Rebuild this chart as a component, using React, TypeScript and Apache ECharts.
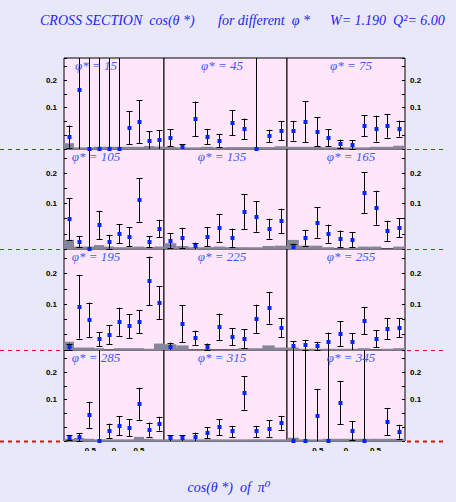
import React, { useEffect, useRef } from "react";
import * as echarts from "echarts";

// ---------------- data ----------------
const cosTheta = [-0.9, -0.7, -0.5, -0.3, -0.1, 0.1, 0.3, 0.5, 0.7, 0.9];
const phiStar = [15, 45, 75, 105, 135, 165, 195, 225, 255, 285, 315, 345];
const xTickLabels = ["-0.5", "0", "0.5"];
const yTickLabels = ["0.1", "0.2"];

// cross section values (points below the axis range are clipped at the bottom)
const xs15 = [-0.005, 0.164, -0.1, -0.1, -0.1, -0.1, 0.027, 0.049, -0.02, -0.016];
const er15 = [0.04, 0.5, 0.5, 0.5, 0.5, 0.5, 0.06, 0.078, 0.035, 0.035];
const sy15 = [0.021, 0.006, 0.006, 0.008, 0.008, 0.008, 0.008, 0.008, 0.011, 0.009];

const xs45 = [-0.009, -0.042, 0.059, -0.005, -0.02, 0.045, 0.0225, -0.1, -0.002, 0.016];
const er45 = [0.03, 0.01, 0.063, 0.028, 0.024, 0.045, 0.038, 0.5, 0.022, 0.035];
const sy45 = [0.008, 0.006, 0.006, 0.008, 0.006, 0.007, 0.007, 0.007, 0.007, 0.01];

const xs75 = [0.016, 0.049, 0.013, -0.009, -0.031, -0.034, 0.0345, 0.024, 0.0345, 0.024];
const er75 = [0.036, 0.074, 0.052, 0.03, 0.015, 0.015, 0.037, 0.047, 0.043, 0.029];
const sy75 = [0.008, 0.008, 0.008, 0.006, 0.006, 0.006, 0.006, 0.008, 0.008, 0.012];

const xs105 = [0.049, -0.026, -0.1, 0.029, -0.026, 0.0005, -0.009, 0.112, -0.026, 0.017];
const er105 = [0.069, 0.019, 0.5, 0.047, 0.023, 0.031, 0.032, 0.072, 0.019, 0.029];
const sy105 = [0.03, 0.008, 0.008, 0.013, 0.008, 0.006, 0.006, 0.008, 0.006, 0.008];

const xs135 = [-0.023, -0.013, -0.04, -0.009, 0.02, -0.013, 0.073, 0.057, 0.017, 0.043];
const er135 = [0.025, 0.033, 0.011, 0.031, 0.046, 0.03, 0.057, 0.05, 0.033, 0.04];
const sy135 = [0.019, 0.01, 0.006, 0.006, 0.008, 0.006, 0.006, 0.006, 0.01, 0.011];

const xs165 = [-0.042, -0.013, 0.037, 0.0005, -0.016, -0.019, 0.136, 0.086, 0.01, 0.02];
const er165 = [0.01, 0.026, 0.05, 0.03, 0.027, 0.025, 0.067, 0.056, 0.033, 0.031];
const sy165 = [0.03, 0.011, 0.011, 0.006, 0.002, 0.004, 0.008, 0.008, 0.001, 0.008];

const xs195 = [-0.039, 0.0915, 0.049, -0.014, 0.0, 0.0425, 0.028, 0.0425, 0.176, 0.1045];
const er195 = [0.01, 0.104, 0.056, 0.023, 0.032, 0.046, 0.039, 0.038, 0.079, 0.053];
const sy195 = [0.027, 0.008, 0.008, 0.006, 0.002, 0.006, 0.006, 0.006, 0.004, 0.021];

const xs225 = [-0.039, 0.036, -0.01, -0.039, 0.026, -0.0065, -0.013, 0.052, 0.088, 0.023];
const er225 = [0.013, 0.06, 0.023, 0.01, 0.043, 0.027, 0.03, 0.046, 0.052, 0.032];
const sy225 = [0.019, 0.015, 0.002, 0.002, 0.002, 0.002, 0.006, 0.006, 0.015, 0.008];

const xs255 = [-0.036, -0.033, -0.036, -0.023, 0.003, -0.023, 0.046, -0.013, 0.02, 0.023];
const er255 = [0.015, 0.016, 0.013, 0.03, 0.041, 0.027, 0.045, 0.028, 0.035, 0.031];
const sy255 = [0.008, 0.004, 0.004, 0.004, 0.004, 0.004, 0.006, 0.002, 0.004, 0.006];

const xs285 = [-0.038, -0.0355, 0.045, -0.1, -0.013, 0.0055, -0.002, 0.085, -0.009, 0.013];
const er285 = [0.01, 0.014, 0.047, 0.5, 0.026, 0.035, 0.03, 0.058, 0.026, 0.025];
const sy285 = [0.008, 0.011, 0.008, 0.006, 0.006, 0.006, 0.006, 0.015, 0.008, 0.006];

const xs315 = [-0.04, -0.04, -0.035, -0.02, 0.0, -0.015, 0.124, -0.015, -0.005, 0.016];
const er315 = [0.01, 0.01, 0.015, 0.02, 0.03, 0.02, 0.06, 0.02, 0.03, 0.025];
const sy315 = [0.006, 0.006, 0.006, 0.006, 0.006, 0.006, 0.006, 0.006, 0.006, 0.006];

const xs345 = [-0.1, -0.1, 0.042, -0.1, 0.089, -0.013, -0.1, null, 0.02, -0.016];
const er345 = [0.5, 0.5, 0.097, 0.5, 0.079, 0.035, 0.5, null, 0.05, 0.025];
const sy345 = [0.012, 0.006, 0.006, 0.008, 0.008, 0.008, 0.008, 0.008, 0.008, 0.008];

const values = [xs15, xs45, xs75, xs105, xs135, xs165, xs195, xs225, xs255, xs285, xs315, xs345];
const errors = [er15, er45, er75, er105, er135, er165, er195, er225, er255, er285, er315, er345];
const systs = [sy15, sy45, sy75, sy105, sy135, sy165, sy195, sy225, sy255, sy285, sy315, sy345];

// ---------------- layout / style ----------------
const W = 456;
const H = 502;
const COLS = [[64, 164], [164, 287], [287, 405]];
const ROWS = [[58, 149], [149, 249], [249, 350], [350, 441]];
const LABEL_CX = [96, 222, 351];
const LABEL_DY = 7;
const Y_MIN = -0.05;
const Y_MAX = 0.28;
const BG = "#e8e8fa";
const PANEL = "#ffe6fa";
const BLUE = "#0026ff";
const LBLUE = "#3a5cff";
const TBLUE = "#2323ff";
const GRAY = "#85859c";
const SERIF = '"Liberation Serif", "DejaVu Serif", serif';
const SANS = '"Liberation Sans", Arial, sans-serif';

function renderPoint(params: any, api: any) {
  const cs = params.coordSys;
  const top = cs.y;
  const bot = cs.y + cs.height;
  const x = api.value(0);
  const v = api.value(1);
  const e = api.value(2);
  const p = api.coord([x, v]);
  const hi = api.coord([x, v + e])[1];
  const lo = api.coord([x, v - e])[1];
  const clamp = (y: number) => Math.max(top, Math.min(bot, y));
  const k = Math.round(p[0]);
  const lx = k + 0.5;
  const py = Math.round(clamp(p[1]));
  const yh = clamp(hi);
  const yl = clamp(lo);
  const ln = { stroke: "#000", lineWidth: 1 };
  const children: any[] = [
    { type: "line", shape: { x1: lx, y1: yh, x2: lx, y2: yl }, style: ln },
  ];
  if (hi > top) {
    const yy = Math.round(hi) + 0.5;
    children.push({ type: "line", shape: { x1: lx - 3, y1: yy, x2: lx + 3, y2: yy }, style: ln });
  }
  if (lo < bot) {
    const yy = Math.round(lo) + 0.5;
    children.push({ type: "line", shape: { x1: lx - 3, y1: yy, x2: lx + 3, y2: yy }, style: ln });
  }
  children.push({
    type: "rect",
    shape: { x: k - 1.5, y: py - 2, width: 4, height: 4 },
    style: { fill: BLUE },
  });
  return { type: "group", children };
}

function renderSyst(params: any, api: any) {
  const x = api.value(0);
  const s = api.value(1);
  const a = api.coord([x - 0.1, Y_MIN]);
  const b = api.coord([x + 0.1, Y_MIN + s]);
  return {
    type: "rect",
    shape: { x: a[0], y: b[1], width: b[0] - a[0], height: a[1] - b[1] },
    style: { fill: GRAY },
  };
}

function buildOption() {
  const grid: any[] = [];
  const xAxis: any[] = [];
  const yAxis: any[] = [];
  const series: any[] = [];
  const graphic: any[] = [];

  phiStar.forEach((phi, i) => {
    const r = Math.floor(i / 3);
    const c = i % 3;
    const [x0, x1] = COLS[c];
    const [y0, y1] = ROWS[r];
    grid.push({
      left: x0,
      top: y0,
      width: x1 - x0,
      height: y1 - y0,
      show: true,
      backgroundColor: PANEL,
      borderColor: "#000",
      borderWidth: 1,
    });
    const bottomRow = r === ROWS.length - 1;
    xAxis.push({
      gridIndex: i,
      type: "value",
      position: "bottom",
      min: -1,
      max: 1,
      interval: 0.5,
      axisLine: { show: false, onZero: false },
      axisTick: { show: false },
      splitLine: { show: false },
      axisLabel: {
        show: bottomRow && c !== 1,
        margin: 5,
        fontSize: 8,
        fontWeight: "bold",
        fontFamily: SANS,
        color: "#000",
        formatter: (v: number) => {
          const s = v === 0 ? "0" : String(v);
          return xTickLabels.includes(s) ? s : "";
        },
      },
    });
    yAxis.push({
      gridIndex: i,
      type: "value",
      min: Y_MIN,
      max: Y_MAX,
      interval: 0.05,
      position: c === 2 ? "right" : "left",
      axisLine: { show: false, onZero: false },
      axisTick: { show: c !== 1, inside: true, length: 3, lineStyle: { color: "#000" } },
      splitLine: { show: false },
      axisLabel: {
        show: c !== 1,
        margin: c === 2 ? 5 : 7,
        fontSize: 8,
        fontWeight: "bold",
        fontFamily: SANS,
        color: "#000",
        formatter: (v: number) => {
          const s = (Math.round(v * 100) / 100).toString();
          return yTickLabels.includes(s) ? s : "";
        },
      },
    });
    series.push({
      type: "custom",
      xAxisIndex: i,
      yAxisIndex: i,
      renderItem: renderSyst,
      data: cosTheta.map((x, j) => [x, systs[i][j]]),
      z: 2,
      silent: true,
    });
    series.push({
      type: "custom",
      xAxisIndex: i,
      yAxisIndex: i,
      renderItem: renderPoint,
      data: cosTheta
        .map((x, j) => [x, values[i][j], errors[i][j]])
        .filter((d) => d[1] !== null),
      z: 3,
      silent: true,
    });
    graphic.push({
      type: "text",
      z: 50,
      style: {
        text: "φ* = " + phi,
        x: LABEL_CX[c],
        y: y0 + LABEL_DY,
        align: "center",
        verticalAlign: "middle",
        textAlign: "center",
        textVerticalAlign: "middle",
        font: "italic 13px " + SERIF,
        fill: LBLUE,
      },
    });
  });

  // dashed guide lines at the bottom of each row, outside the panels
  ROWS.forEach(([, yb], r) => {
    const last = r === ROWS.length - 1;
    const yy = yb + 0.5;
    const st = { stroke: "#e01010", lineWidth: last ? 2 : 1, lineDash: [4, 4] };
    graphic.push({ type: "line", z: 40, shape: { x1: 0, y1: yy, x2: COLS[0][0] - 1, y2: yy }, style: st });
    graphic.push({ type: "line", z: 40, shape: { x1: COLS[2][1] + 2, y1: yy, x2: 446, y2: yy }, style: st });
  });

  // cover the lower half of the x tick labels (they are cut in the original)
  graphic.push({
    type: "rect",
    z: 60,
    shape: { x: 60, y: 451, width: 350, height: 20 },
    style: { fill: BG },
  });

  const titleFont = "italic 14px " + SERIF;
  const titleParts = [
    { text: "CROSS SECTION  cos(θ *)", x: 40 },
    { text: "for different  φ *", x: 218 },
    { text: "W= 1.190  Q²= 6.00", x: 330 },
  ];
  titleParts.forEach((t) => {
    graphic.push({
      type: "text",
      z: 50,
      style: {
        text: t.text,
        x: t.x,
        y: 20,
        align: "left",
        verticalAlign: "middle",
        textAlign: "left",
        textVerticalAlign: "middle",
        font: titleFont,
        fill: TBLUE,
      },
    });
  });
  graphic.push({
    type: "text",
    z: 50,
    style: {
      text: "cos(θ *)  of  π⁰",
      x: 229,
      y: 487,
      align: "center",
      verticalAlign: "middle",
      textAlign: "center",
      textVerticalAlign: "middle",
      font: titleFont,
      fill: TBLUE,
    },
  });

  return {
    animation: false,
    backgroundColor: BG,
    grid,
    xAxis,
    yAxis,
    series,
    graphic,
  };
}

export default function App() {
  const ref = useRef<HTMLDivElement>(null);
  useEffect(() => {
    if (!ref.current) return;
    const chart = echarts.init(ref.current, undefined, { renderer: "svg" });
    chart.setOption(buildOption() as any);
    return () => chart.dispose();
  }, []);
  return (
    <div
      ref={ref}
      style={{ position: "absolute", left: 0, top: 0, width: W, height: H }}
    />
  );
}
